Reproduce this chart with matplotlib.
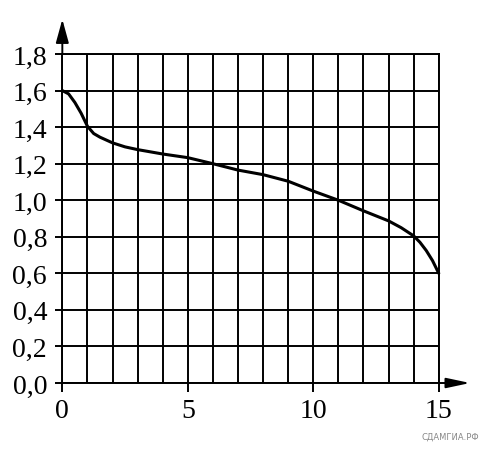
import numpy as np
import matplotlib.pyplot as plt

# --- Data ---
x_vals = [0, 0.25, 0.5, 0.75, 1, 1.25, 1.5, 2, 2.5, 3, 4, 5, 6, 7, 8, 9,
          10, 11, 12, 13, 13.5, 14, 14.25, 14.5, 14.75, 15]
y_vals = [1.6, 1.582, 1.535, 1.476, 1.405, 1.365, 1.345, 1.314, 1.292, 1.277,
          1.253, 1.233, 1.2, 1.165, 1.14, 1.104, 1.05, 1.0, 0.942, 0.887,
          0.85, 0.805, 0.77, 0.725, 0.67, 0.6]

x_ticks = [0, 5, 10, 15]
y_ticks = [0.0, 0.2, 0.4, 0.6, 0.8, 1.0, 1.2, 1.4, 1.6, 1.8]
y_labels = [f"{v:.1f}".replace(".", ",") for v in y_ticks]

# ----- Plotting -----
fig = plt.figure(figsize=(4.82, 4.64), dpi=100)
ax = fig.add_axes([0.1293, 0.1724, 0.781, 0.709])

lw_grid = 1.4
ax.set_xlim(0, 15)
ax.set_ylim(0, 1.8)

ax.set_xticks(x_ticks)
ax.set_xticks(np.arange(0, 16, 1), minor=True)
ax.set_yticks(y_ticks)
ax.set_yticklabels(y_labels)

ax.grid(True, which="both", color="black", linewidth=lw_grid)
ax.tick_params(axis="x", which="major", direction="out", length=6.5,
               width=lw_grid, pad=4)
ax.tick_params(axis="x", which="minor", length=0)
ax.tick_params(axis="y", direction="out", length=5, width=lw_grid, pad=6)
for lab in ax.get_xticklabels() + ax.get_yticklabels():
    lab.set_fontfamily("Liberation Serif")
    lab.set_fontsize(20)
for s in ax.spines.values():
    s.set_linewidth(lw_grid)

ax.plot(x_vals, y_vals, color="black", linewidth=2.2, clip_on=False,
        solid_capstyle="round", zorder=5)

# axis arrows
ax.annotate("", xy=(0, 1.99), xytext=(0, 1.8), annotation_clip=False,
            arrowprops=dict(arrowstyle="-|>,head_length=0.8,head_width=0.22",
                            color="black", lw=lw_grid, mutation_scale=18,
                            shrinkA=0, shrinkB=0))
ax.annotate("", xy=(16.25, 0), xytext=(15, 0), annotation_clip=False,
            arrowprops=dict(arrowstyle="-|>,head_length=0.8,head_width=0.17",
                            color="black", lw=lw_grid, mutation_scale=18,
                            shrinkA=0, shrinkB=0))

fig.text(0.995, 0.057, "СДАМГИА.РФ", ha="right", va="center",
         fontsize=6, color="#888888", family="DejaVu Sans")

plt.savefig("out.png", dpi=100)
